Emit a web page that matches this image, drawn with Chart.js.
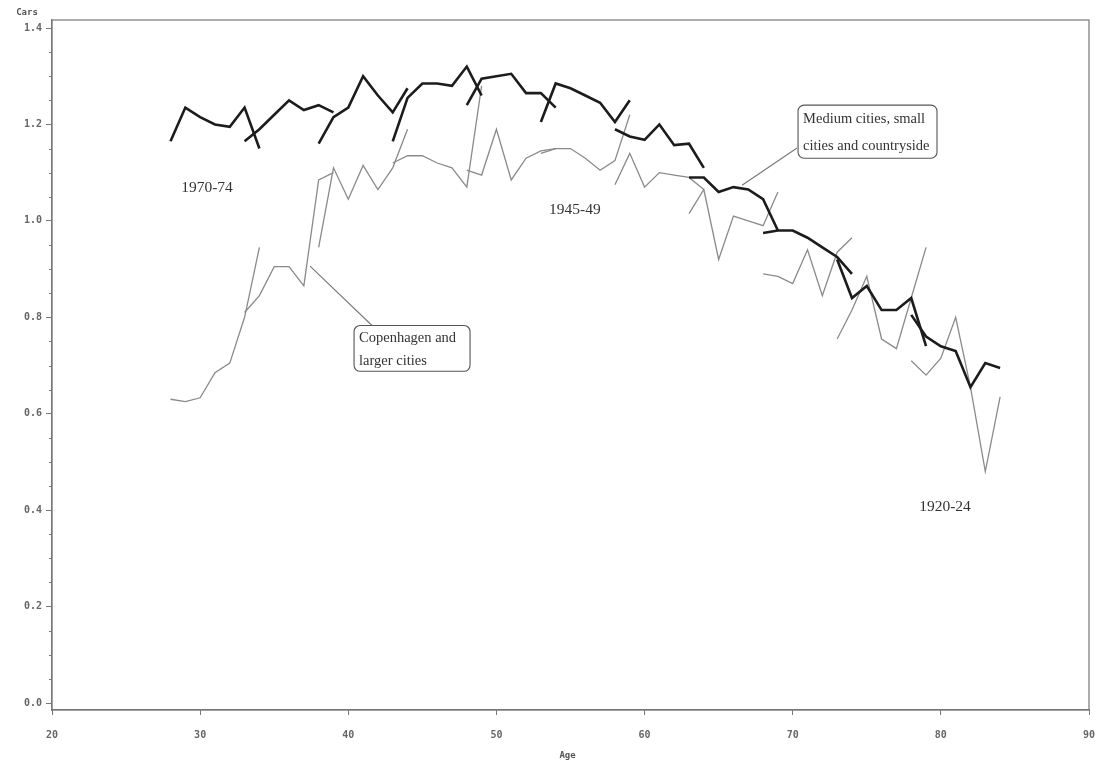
<!DOCTYPE html>
<html>
<head>
<meta charset="utf-8">
<script src="https://cdn.jsdelivr.net/npm/chart.js@4.4.1/dist/chart.umd.min.js"></script>
<style>
    html, body { margin: 0; padding: 0; background: #fff; }
    #wrap { width: 1097px; height: 763px; }
</style>
</head>
<body>
<div id="wrap"><canvas id="carsChart" width="1097" height="763"></canvas></div>
<script>
// birth cohorts, youngest first
const cohorts = ["1970-74", "1965-69", "1960-64", "1955-59", "1950-54", "1945-49",
                 "1940-44", "1935-39", "1930-34", "1925-29", "1920-24"];

// age at which each cohort was observed
const cohortAges = [
    [28, 29, 30, 31, 32, 33, 34],
    [33, 34, 35, 36, 37, 38, 39],
    [38, 39, 40, 41, 42, 43, 44],
    [43, 44, 45, 46, 47, 48, 49],
    [48, 49, 50, 51, 52, 53, 54],
    [53, 54, 55, 56, 57, 58, 59],
    [58, 59, 60, 61, 62, 63, 64],
    [63, 64, 65, 66, 67, 68, 69],
    [68, 69, 70, 71, 72, 73, 74],
    [73, 74, 75, 76, 77, 78, 79],
    [78, 79, 80, 81, 82, 83, 84]
];

// cars per household, medium cities, small cities and countryside
const mediumCities = [
    [1.165, 1.235, 1.215, 1.20, 1.195, 1.235, 1.15],
    [1.165, 1.19, 1.22, 1.25, 1.23, 1.24, 1.225],
    [1.16, 1.215, 1.235, 1.30, 1.26, 1.225, 1.275],
    [1.165, 1.255, 1.285, 1.285, 1.28, 1.32, 1.26],
    [1.24, 1.295, 1.30, 1.305, 1.265, 1.265, 1.235],
    [1.205, 1.285, 1.275, 1.26, 1.245, 1.205, 1.25],
    [1.19, 1.175, 1.168, 1.20, 1.157, 1.16, 1.11],
    [1.09, 1.09, 1.06, 1.07, 1.065, 1.045, 0.98],
    [0.975, 0.98, 0.98, 0.965, 0.945, 0.925, 0.89],
    [0.92, 0.84, 0.865, 0.815, 0.815, 0.84, 0.74],
    [0.805, 0.76, 0.74, 0.73, 0.655, 0.705, 0.695]
];

// cars per household, Copenhagen and larger cities
const copenhagen = [
    [0.63, 0.625, 0.633, 0.685, 0.705, 0.80, 0.945],
    [0.81, 0.845, 0.905, 0.905, 0.865, 1.085, 1.10],
    [0.945, 1.11, 1.045, 1.115, 1.065, 1.11, 1.19],
    [1.12, 1.135, 1.135, 1.12, 1.11, 1.07, 1.28],
    [1.105, 1.095, 1.19, 1.085, 1.13, 1.145, 1.15],
    [1.14, 1.15, 1.15, 1.13, 1.105, 1.125, 1.22],
    [1.075, 1.14, 1.07, 1.10, 1.095, 1.09, 1.065],
    [1.015, 1.065, 0.92, 1.01, 1.0, 0.99, 1.06],
    [0.89, 0.885, 0.87, 0.94, 0.845, 0.935, 0.965],
    [0.755, 0.815, 0.885, 0.755, 0.735, 0.84, 0.945],
    [0.71, 0.68, 0.715, 0.80, 0.655, 0.48, 0.635]
];

const xTicks = [20, 30, 40, 50, 60, 70, 80, 90];
const yTicks = [0, 0.2, 0.4, 0.6, 0.8, 1.0, 1.2, 1.4];

const AXIS_COLOR = "#777";
const TICK_FONT = { family: "DejaVu Sans Mono", size: 10, weight: "bold" };

function toPoints(ages, values) {
    return ages.map((a, i) => ({ x: a, y: values[i] }));
}

const datasets = [];
cohorts.forEach((c, i) => {
    datasets.push({
        label: c + " medium",
        data: toPoints(cohortAges[i], mediumCities[i]),
        borderColor: "#1c1c1c",
        borderWidth: 2.6,
        pointRadius: 0,
        tension: 0,
        order: 0
    });
    datasets.push({
        label: c + " Copenhagen",
        data: toPoints(cohortAges[i], copenhagen[i]),
        borderColor: "#8a8a8a",
        borderWidth: 1.3,
        pointRadius: 0,
        tension: 0,
        order: 1
    });
});

// frame, minor ticks, axis words and the callouts
const decorations = {
    id: "decorations",
    afterDatasetsDraw(chart) {
        const { ctx, chartArea: a, scales: { x, y } } = chart;
        ctx.save();

        // box around the plot
        ctx.strokeStyle = AXIS_COLOR;
        ctx.lineWidth = 1.2;
        ctx.strokeRect(a.left, a.top, a.right - a.left, a.bottom - a.top);

        // minor ticks on the y axis
        ctx.lineWidth = 1;
        for (let i = 1; i < 28; i++) {
            if (i % 4 === 0) continue;
            const py = Math.round(y.getPixelForValue(i * 0.05)) + 0.5;
            ctx.beginPath();
            ctx.moveTo(a.left - 3, py);
            ctx.lineTo(a.left, py);
            ctx.stroke();
        }

        // axis words
        ctx.fillStyle = "#555";
        ctx.font = "bold 9px 'DejaVu Sans Mono'";
        ctx.textAlign = "center";
        ctx.textBaseline = "middle";
        ctx.fillText("Cars", 27, 13);
        ctx.fillText("Age", x.getPixelForValue(54.8), 756);

        // cohort labels
        ctx.fillStyle = "#333";
        ctx.font = "15.5px 'Liberation Serif'";
        [["1970-74", 30.46, 1.068], ["1945-49", 55.3, 1.022], ["1920-24", 80.28, 0.407]]
            .forEach(([t, ax, ay]) => ctx.fillText(t, x.getPixelForValue(ax), y.getPixelForValue(ay)));

        // callout boxes with leader lines
        const callout = (lines, box, from, to) => {
            const l = x.getPixelForValue(box[0]), t = y.getPixelForValue(box[1]);
            const r = x.getPixelForValue(box[2]), b = y.getPixelForValue(box[3]);
            ctx.strokeStyle = "#777";
            ctx.lineWidth = 1.1;
            ctx.beginPath();
            ctx.moveTo(x.getPixelForValue(from[0]), y.getPixelForValue(from[1]));
            ctx.lineTo(x.getPixelForValue(to[0]), y.getPixelForValue(to[1]));
            ctx.stroke();
            ctx.beginPath();
            ctx.roundRect(l, t, r - l, b - t, 6);
            ctx.fillStyle = "#fff";
            ctx.fill();
            ctx.strokeStyle = "#555";
            ctx.stroke();
            ctx.fillStyle = "#333";
            ctx.font = "14.5px 'Liberation Serif'";
            ctx.textAlign = "left";
            ctx.textBaseline = "middle";
            const h = (b - t) / lines.length;
            lines.forEach((s, k) => ctx.fillText(s, l + 5, t + h * (k + 0.5) + 1));
        };
        callout(["Medium cities, small", "cities and countryside"],
                [70.36, 1.240, 79.74, 1.130], [66.58, 1.074], [70.29, 1.151]);
        callout(["Copenhagen and", "larger cities"],
                [40.39, 0.783, 48.22, 0.688], [37.42, 0.906], [41.6, 0.783]);

        ctx.restore();
    }
};

new Chart(document.getElementById("carsChart"), {
    type: "line",
    data: { datasets },
    options: {
        responsive: false,
        animation: false,
        events: [],
        layout: { padding: { left: 0, right: 8, top: 20, bottom: 0 } },
        plugins: { legend: { display: false }, tooltip: { enabled: false } },
        scales: {
            x: {
                type: "linear",
                min: 20,
                max: 90,
                afterBuildTicks: (s) => { s.ticks = xTicks.map(v => ({ value: v })); },
                afterFit: (s) => { s.height = 53; s.paddingLeft = 0; s.paddingRight = 0; },
                border: { display: true, color: AXIS_COLOR, width: 1.2 },
                grid: { drawOnChartArea: false, color: AXIS_COLOR, tickLength: 5 },
                ticks: { font: TICK_FONT, color: "#666", padding: 14, maxRotation: 0 }
            },
            y: {
                type: "linear",
                min: -0.0145,
                max: 1.4166,
                afterBuildTicks: (s) => { s.ticks = yTicks.map(v => ({ value: v })); },
                afterFit: (s) => { s.width = 52; s.paddingTop = 0; s.paddingBottom = 0; },
                border: { display: true, color: AXIS_COLOR, width: 1.2 },
                grid: { drawOnChartArea: false, color: AXIS_COLOR, tickLength: 6 },
                ticks: { font: TICK_FONT, color: "#666", padding: 4, callback: (v) => v.toFixed(1) }
            }
        }
    },
    plugins: [decorations]
});
</script>
</body>
</html>
